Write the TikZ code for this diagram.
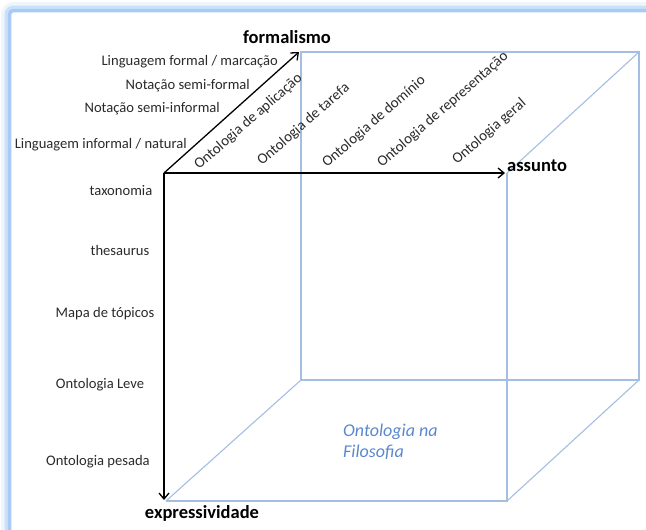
\documentclass[tikz,border=0pt]{standalone}
\usepackage{fontspec}
\setmainfont{Carlito}
\usetikzlibrary{arrows.meta}
\definecolor{edgeblue}{HTML}{A4BEE2}
\definecolor{glowblue}{HTML}{A8CBF5}
\definecolor{labelgray}{HTML}{2A2A2A}
\definecolor{philoblue}{HTML}{5A88CE}

\begin{document}
\begin{tikzpicture}[x=1pt,y=-1pt,
  axis/.style={draw=black, line width=1.3pt, -{Straight Barb[length=6pt,width=10pt,line width=1.3pt]}},
  cubeedge/.style={draw=edgeblue, line width=1.1pt},
  lab/.style={text=labelgray, font=\fontsize{14.6}{18}\selectfont, inner sep=0pt},
  axislab/.style={text=black, font=\fontsize{18.5}{22}\selectfont\bfseries, inner sep=0pt},
  kind/.style={lab, font=\fontsize{14.9}{18}\selectfont, rotate=41, anchor=base west},
]
\useasboundingbox (0,0) rectangle (646,530);

% soft frame along the left and top borders
\begin{scope}
  \clip (0,0) rectangle (646,530);
  \draw[glowblue, line width=10pt, opacity=0.2, rounded corners=8pt] (6,540) -- (6,7) -- (660,7);
  \draw[glowblue, line width=6pt, opacity=0.5, rounded corners=6pt] (7.5,540) -- (7.5,8.5) -- (660,8.5);
  \draw[glowblue, line width=3.5pt, rounded corners=4pt] (9.5,540) -- (9.5,10.5) -- (660,10.5);
\end{scope}

% cube corners
\coordinate (O)   at (164,173);
\coordinate (FTR) at (507,173);
\coordinate (FBL) at (166,501);
\coordinate (FBR) at (507,501);
\coordinate (BTL) at (301,52);
\coordinate (BTR) at (639,52);
\coordinate (BBL) at (301,380);
\coordinate (BBR) at (639,380);

% axis tips
\coordinate (Xtip) at (505,173);
\coordinate (Ytip) at (299,52);
\coordinate (Ztip) at (164,500);

% cube edges
\draw[cubeedge] (BTL) -- (BTR) -- (BBR) -- (BBL) -- cycle;
\draw[cubeedge] (FTR) -- (FBR) -- (FBL);
\draw[cubeedge] (FTR) -- (BTR);
\draw[cubeedge] (FBR) -- (BBR);
\draw[cubeedge] (FBL) -- (BBL);

% axes
\draw[axis] (O) -- (Xtip);
\draw[axis] (O) -- (Ytip);
\draw[axis] (O) -- (Ztip);

% axis names
\node[axislab] (formalismo) at (287,37) {formalismo};
\node[axislab, anchor=west] (assunto) at (507,166) {assunto};
\node[axislab] (expressividade) at (202,513) {expressividade};

% formalism levels
\node[lab, anchor=east] (f4) at (278,62) {Linguagem formal / marcação};
\node[lab, anchor=east] (f3) at (250,86) {Notação semi-formal};
\node[lab, anchor=east] (f2) at (220,109) {Notação semi-informal};
\node[lab, anchor=east] (f1) at (187,145) {Linguagem informal / natural};

% expressiveness levels
\node[lab] (e1) at (121,191) {taxonomia};
\node[lab] (e2) at (120,250) {thesaurus};
\node[lab] (e3) at (105,314) {Mapa de tópicos};
\node[lab] (e4) at (100,385) {Ontologia Leve};
\node[lab] (e5) at (98,462) {Ontologia pesada};

% subject kinds
\node[kind] (s1) at (199,170) {Ontologia de aplicação};
\node[kind] (s2) at (262,166) {Ontologia de tarefa};
\node[kind] (s3) at (327,168) {Ontologia de domínio};
\node[kind] (s4) at (382,168) {Ontologia de representação};
\node[kind] (s5) at (457,165) {Ontologia geral};

% philosophy region
\node[text=philoblue, font=\fontsize{18}{21}\selectfont\itshape, align=left, anchor=west, inner sep=0pt]
  (philo) at (343,442) {Ontologia na\\Filosofia};
\end{tikzpicture}
\end{document}
